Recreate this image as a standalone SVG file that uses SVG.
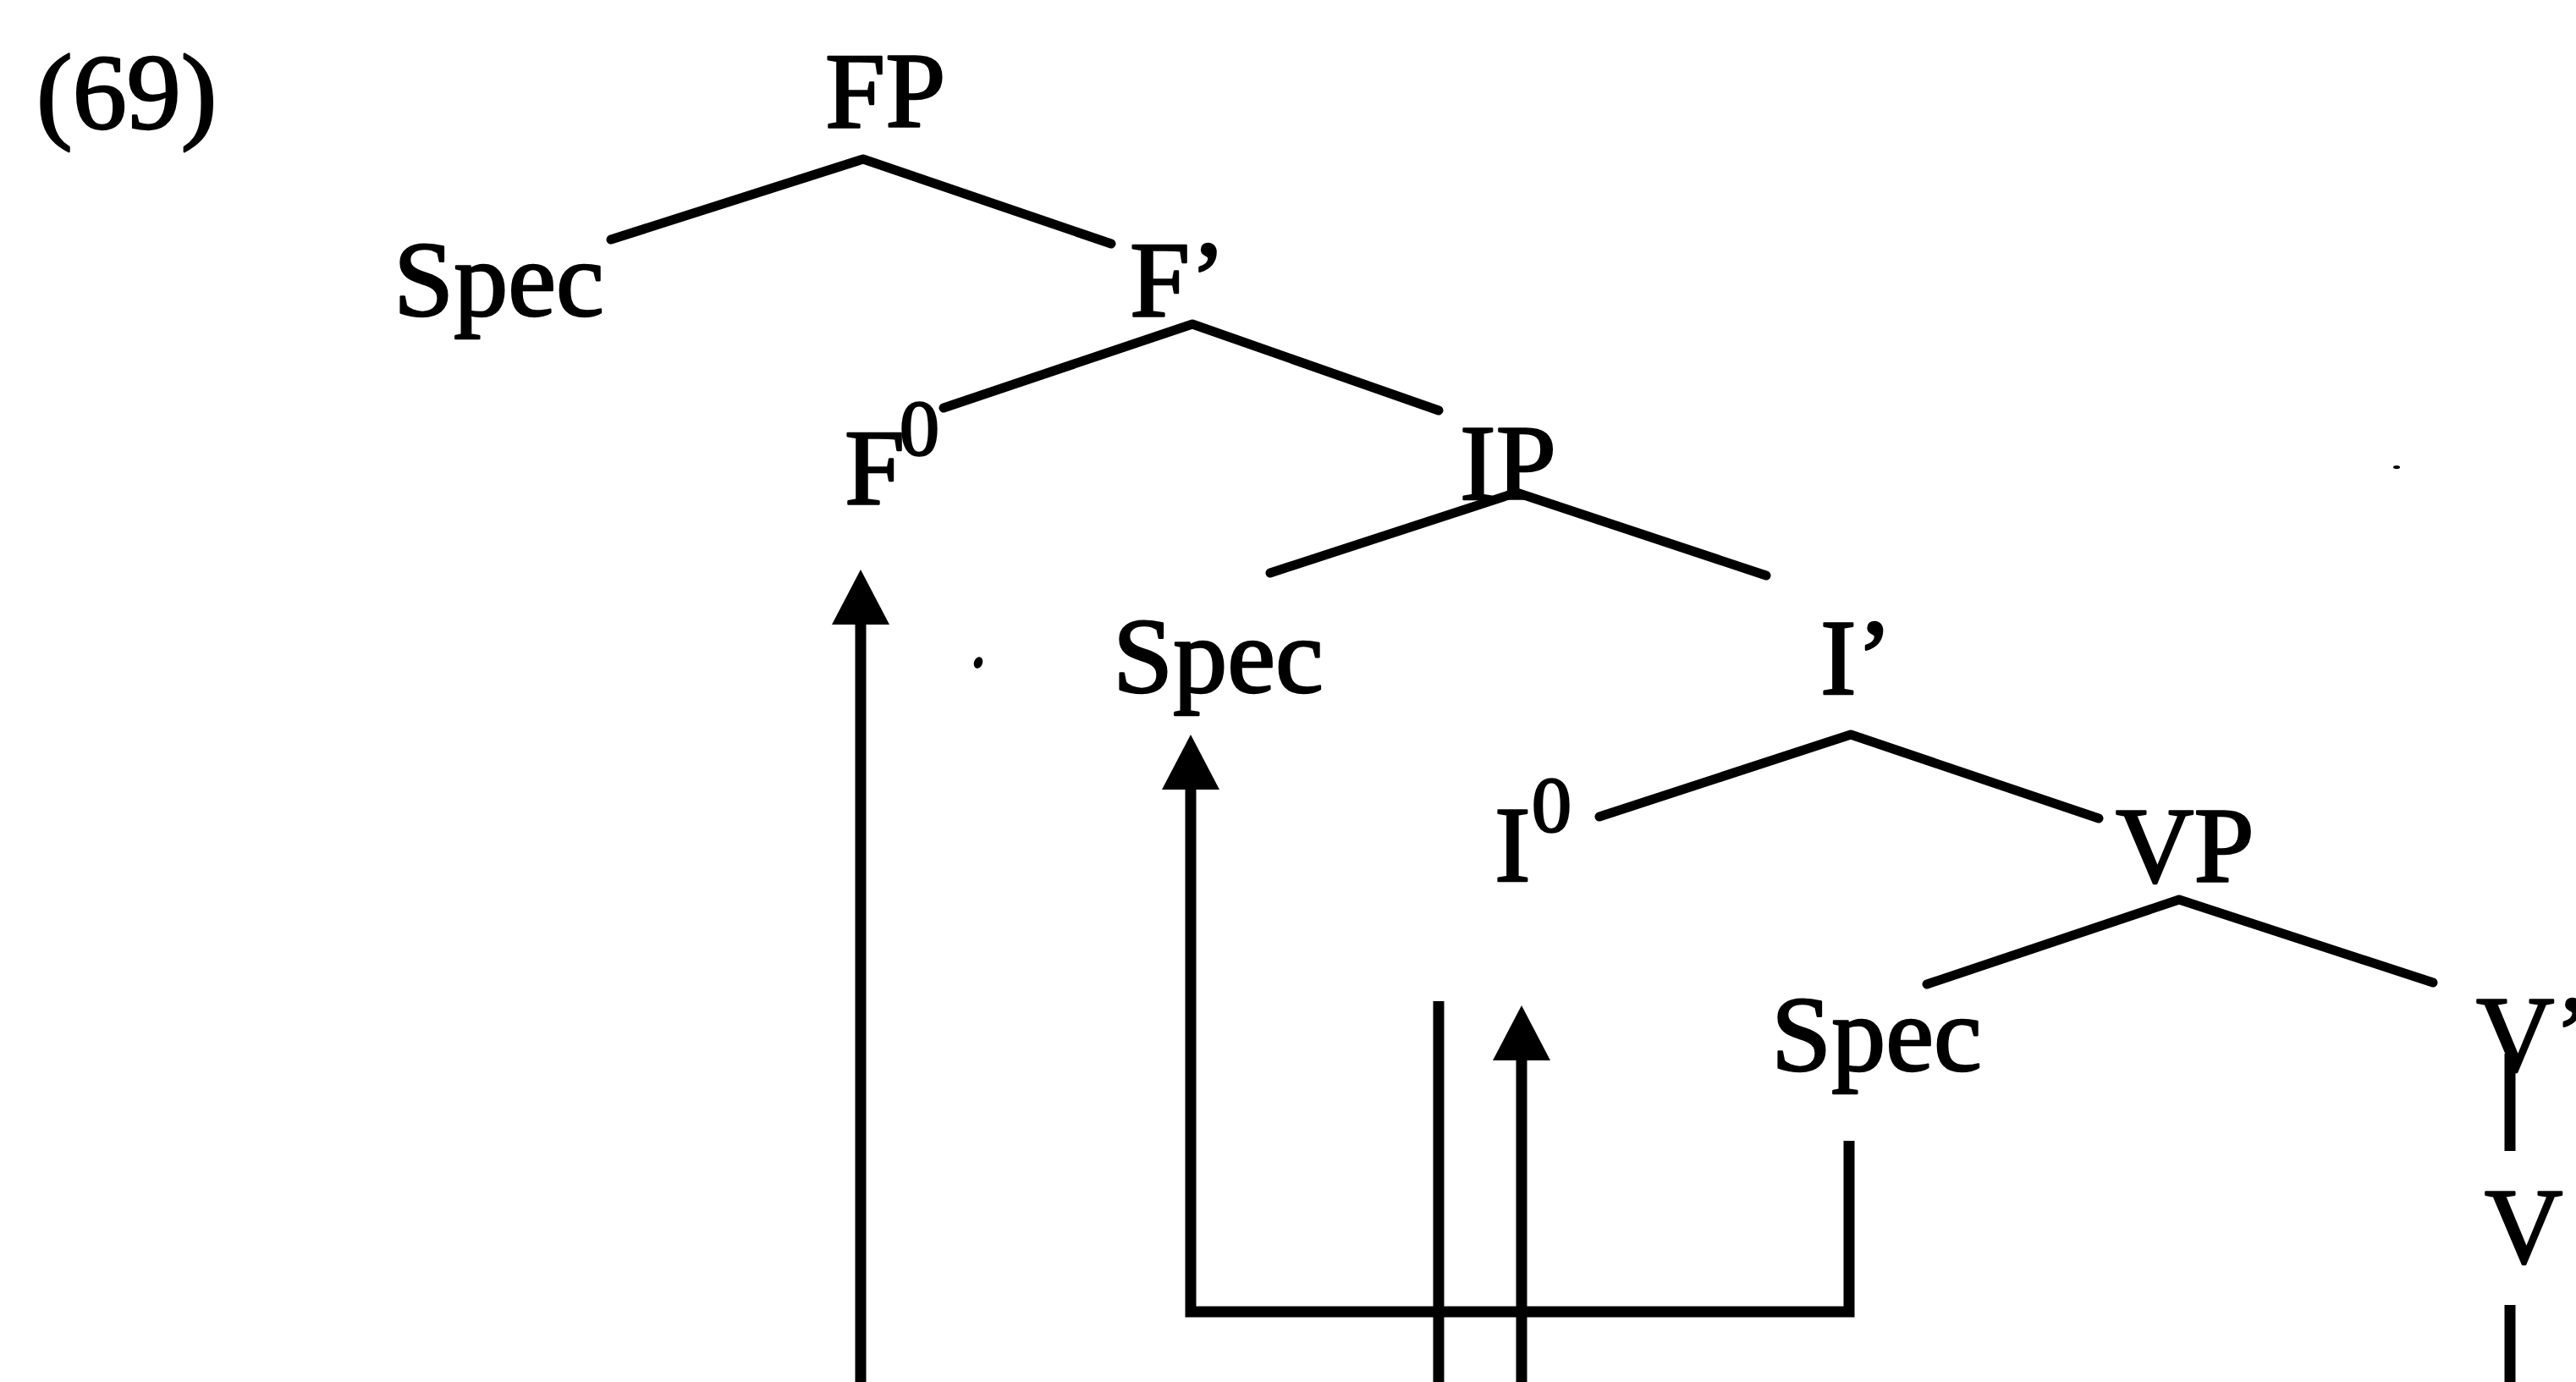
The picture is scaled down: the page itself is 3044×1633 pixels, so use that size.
<svg xmlns="http://www.w3.org/2000/svg" width="3044" height="1633" viewBox="0 0 3044 1633">
  <style>
    .lbl { font-family: "Liberation Serif", "Times New Roman", serif; font-size: 128px; fill: #000; stroke: #000; stroke-width: 2.5; stroke-linejoin: round; }
    .sup { font-size: 94px; }
    .branch { fill: none; stroke: #000; stroke-width: 11; stroke-linejoin: round; stroke-linecap: round; }
    .move { fill: none; stroke: #000; stroke-width: 13; stroke-linejoin: miter; }
    .speck { fill: #000; }
  </style>
  <defs>
    <marker id="head" markerUnits="userSpaceOnUse" viewBox="0 -35 66 70" refX="0" refY="0" markerWidth="66" markerHeight="70" orient="auto">
      <path d="M0,-34 L65,0 L0,34 Z" fill="#000"/>
    </marker>
  </defs>
  <rect width="3044" height="1633" fill="#fff"/>

  <!-- example number -->
  <text id="ex-num" class="lbl" x="43" y="152">(69)</text>

  <!-- tree nodes -->
  <g id="node-FP"><text class="lbl" x="975" y="150">FP</text></g>
  <g id="node-SpecF"><text class="lbl" x="465" y="373">Spec</text></g>
  <g id="node-Fbar"><text class="lbl" x="1335" y="373">F’</text></g>
  <g id="node-F0"><text class="lbl" x="998" y="595">F<tspan class="sup" x="1063" y="537">0</tspan></text></g>
  <g id="node-IP"><text class="lbl" x="1725" y="590">IP</text></g>
  <g id="node-SpecI"><text class="lbl" x="1315" y="818">Spec</text></g>
  <g id="node-Ibar"><text class="lbl" x="2151" y="820">I’</text></g>
  <g id="node-I0"><text class="lbl" x="1766" y="1041">I<tspan class="sup" x="1810" y="982">0</tspan></text></g>
  <g id="node-VP"><text class="lbl" x="2500" y="1042">VP</text></g>
  <g id="node-SpecV"><text class="lbl" x="2093" y="1265">Spec</text></g>
  <g id="node-Vbar"><text class="lbl" x="2926" y="1265">V’</text></g>
  <g id="node-V"><text class="lbl" x="2936" y="1492">V</text></g>

  <!-- branches and movement paths -->
  <g id="connectors">
    <polyline class="branch" points="722,283 1020,188 1313,288"/>
    <polyline class="branch" points="1115,482 1409,383 1700,485"/>
    <polyline class="branch" points="1501,677 1792,582 2087,680"/>
    <polyline class="branch" points="1890,965 2187,868 2480,967"/>
    <polyline class="branch" points="2277,1163 2575,1063 2875,1161"/>
    <line class="move" x1="2966" y1="1245" x2="2966" y2="1360"/>
    <line class="move" x1="2966" y1="1542" x2="2966" y2="1640"/>

    <!-- head movement to F0 -->
    <line class="move" x1="1017" y1="1640" x2="1017" y2="738" marker-end="url(#head)"/>
    <!-- subject raising from Spec,VP to Spec,IP -->
    <polyline class="move" points="2185,1348 2185,1550 1407,1550 1407,933" marker-end="url(#head)"/>
    <!-- vertical trace line -->
    <line class="move" x1="1700" y1="1183" x2="1700" y2="1640"/>
    <!-- head movement to I0 -->
    <line class="move" x1="1798" y1="1640" x2="1798" y2="1253" marker-end="url(#head)"/>
  </g>

  <!-- stray specks -->
  <ellipse class="speck" cx="1156" cy="783" rx="5" ry="7" transform="rotate(20 1156 783)"/>
  <ellipse class="speck" cx="2832" cy="552" rx="4" ry="2"/>
</svg>
